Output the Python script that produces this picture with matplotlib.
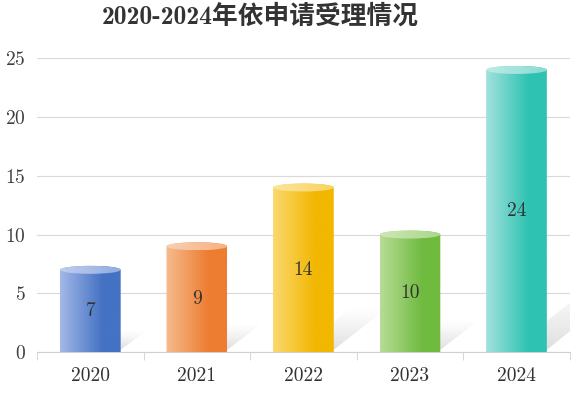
# 2020-2024 依申请受理情况 cylinder bar chart

import numpy as np
import matplotlib
matplotlib.use("Agg")
from matplotlib import pyplot as plt
from matplotlib.path import Path
from matplotlib.patches import PathPatch, Ellipse, Polygon
from matplotlib.colors import to_rgb


# data
years = ["2020", "2021", "2022", "2023", "2024"]
values = [7, 9, 14, 10, 24]
title = "2020-2024年依申请受理情况"

# colours (light edge, saturated edge)
light_colors = ["#a3b8e8", "#f6bb8f", "#fbd870", "#b8dc96", "#a2e2dc"]
dark_colors = ["#4472c4", "#ed7d31", "#f2b700", "#6fbb3f", "#2ec2b3"]

plt.rcParams["font.family"] = ["cmr10", "Noto Sans CJK SC"]
plt.rcParams["axes.formatter.use_mathtext"] = True

fig = plt.figure(figsize=(5.79, 3.93), dpi=100)
ax = fig.add_axes([0.064, 0.104, 0.92, 0.748])
ax.set_xlim(-0.5, 4.5)
ax.set_ylim(0, 25)

bar_w = 0.57
ry = 0.34  # half height of the end ellipses in data units


def gradient_img(c1, c2, n=200, flat=0.3):
    t = np.linspace(0, 1, n)
    t = np.clip(t / (1 - flat), 0, 1)
    a = np.array(to_rgb(c1))
    b = np.array(to_rgb(c2))
    row = a[None, :] * (1 - t[:, None]) + b[None, :] * t[:, None]
    return row[None, :, :]


# shadows
for i, v in enumerate(values):
    x0 = i - 0.05
    x1 = i + bar_w / 2
    dx = 0.036 * v
    dy = 0.27 * v
    poly = Polygon(
        [(x0, 0.2), (x1, 0.2), (x1 + dx, dy), (x0 + dx, dy)],
        closed=True, facecolor="none", edgecolor="none",
    )
    ax.add_patch(poly)
    n = 100
    alpha = np.linspace(0.4, 0.0, n) ** 1.2
    img = np.zeros((n, 2, 4))
    img[..., :3] = 0.62
    img[..., 3] = alpha[:, None]
    im = ax.imshow(
        img, extent=[x0, x1 + dx, 0.2, dy], origin="lower",
        aspect="auto", zorder=1, interpolation="bilinear",
    )
    im.set_clip_path(poly)

# cylinders
for i, v in enumerate(values):
    left = i - bar_w / 2
    right = i + bar_w / 2
    t_bot = np.linspace(np.pi, 2 * np.pi, 40)
    t_top = np.linspace(0, np.pi, 40)
    bottom = [(i + bar_w / 2 * np.cos(t), ry * np.sin(t)) for t in t_bot]
    top = [(i + bar_w / 2 * np.cos(t), v + ry * np.sin(t)) for t in t_top]
    verts = bottom + top + [bottom[0]]
    codes = [Path.MOVETO] + [Path.LINETO] * (len(verts) - 2) + [Path.CLOSEPOLY]
    body = PathPatch(Path(verts, codes), facecolor="none", edgecolor="none")
    ax.add_patch(body)
    im = ax.imshow(
        gradient_img(light_colors[i], dark_colors[i]),
        extent=[left, right, -ry, v + ry], origin="lower", aspect="auto",
        zorder=3, interpolation="bilinear",
    )
    im.set_clip_path(body)
    im.set_clip_box(None)

    cap = Ellipse((i, v), bar_w, 2 * ry, facecolor="none", edgecolor="none")
    ax.add_patch(cap)
    lc = np.array(to_rgb(light_colors[i]))
    dc = np.array(to_rgb(dark_colors[i]))
    c1 = lc * 0.7 + 0.3
    c2 = (lc + dc) / 2 * 0.75 + 0.25
    im2 = ax.imshow(
        gradient_img(c1, c2, flat=0.1), extent=[left, right, v - ry, v + ry],
        origin="lower", aspect="auto", zorder=4, interpolation="bilinear",
    )
    im2.set_clip_path(cap)
    im2.set_clip_box(None)

    ax.text(i, v / 2, str(v), ha="center", va="center", fontsize=14,
            color="#333333", zorder=5)

ax.set_xlim(-0.5, 4.5)
ax.set_ylim(0, 25)

# axes styling
ax.set_yticks([0, 5, 10, 15, 20, 25])
ax.grid(axis="y", color="#d9d9d9", linewidth=0.8, zorder=0)
ax.set_axisbelow(True)
for s in ["left", "right", "top"]:
    ax.spines[s].set_visible(False)
ax.spines["bottom"].set_color("#d0d0d0")
ax.set_xticks(range(len(years)))
ax.set_xticklabels(years)
ax.set_xticks(np.arange(-0.5, 5, 1), minor=True)
ax.tick_params(axis="x", which="major", length=0, pad=11, labelsize=14, labelcolor="#333333")
ax.tick_params(axis="x", which="minor", length=6, color="#d0d0d0")
ax.tick_params(axis="y", length=0, pad=8, labelsize=14, labelcolor="#404040")

fig.suptitle(title, x=0.45, y=0.99, fontsize=18.5, color="#333333",
             family=["cmb10", "Noto Sans CJK SC"], fontweight="bold")

fig.savefig("out.png", dpi=100)
